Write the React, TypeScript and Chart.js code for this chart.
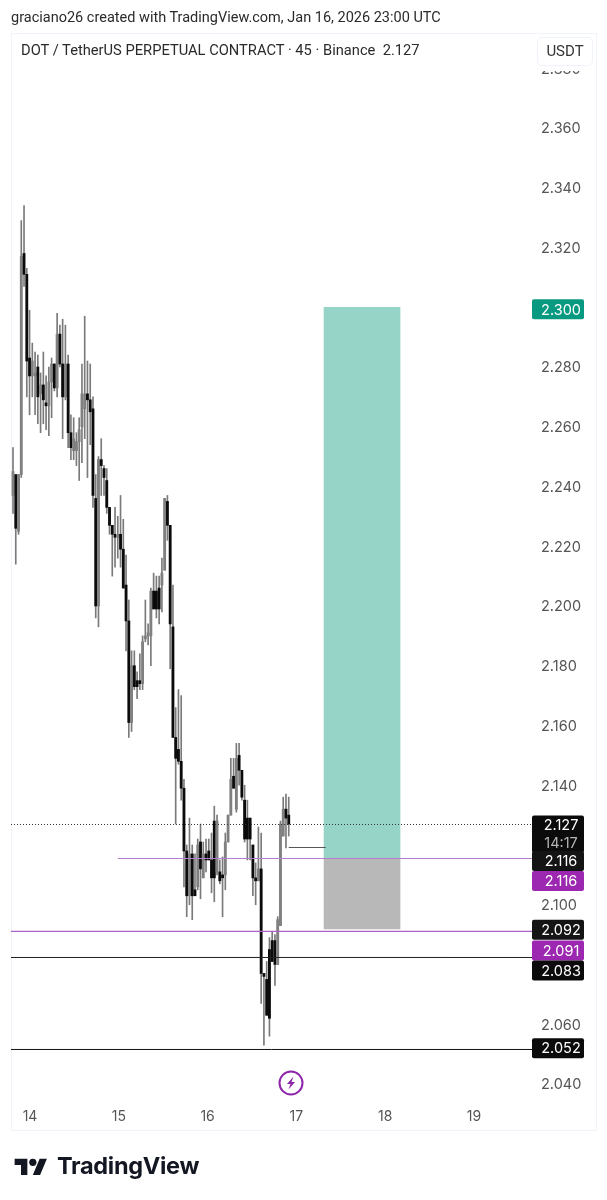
import React, { useEffect, useRef } from "react";
import { Chart, registerables } from "chart.js";

Chart.register(...registerables);

const firstBarDay = 13.8086;
const barStep = 0.03105;

const opens = [2.237,2.244,2.225,2.244,2.318,2.311,2.283,2.277,2.277,2.280,2.271,2.274,2.268,2.267,2.275,2.281,2.273,2.291,2.281,2.270,2.281,2.258,2.252,2.252,2.255,2.260,2.266,2.271,2.269,2.266,2.236,2.200,2.249,2.246,2.242,2.233,2.227,2.224,2.223,2.224,2.219,2.207,2.195,2.161,2.180,2.175,2.175,2.174,2.189,2.190,2.190,2.205,2.205,2.206,2.207,2.212,2.235,2.227,2.193,2.156,2.152,2.148,2.139,2.118,2.103,2.117,2.105,2.106,2.121,2.109,2.117,2.118,2.115,2.128,2.111,2.111,2.110,2.110,2.121,2.130,2.143,2.132,2.150,2.145,2.135,2.129,2.129,2.120,2.109,2.108,2.112,2.077,2.075,2.085,2.088,2.088,2.080,2.093,2.123,2.132,2.130];
const highs = [2.253,2.244,2.244,2.329,2.334,2.313,2.299,2.288,2.285,2.284,2.278,2.285,2.277,2.280,2.283,2.281,2.298,2.294,2.296,2.294,2.284,2.264,2.263,2.258,2.263,2.281,2.297,2.282,2.281,2.270,2.244,2.250,2.256,2.247,2.246,2.233,2.227,2.233,2.230,2.237,2.229,2.217,2.202,2.185,2.185,2.178,2.184,2.190,2.202,2.194,2.206,2.211,2.210,2.210,2.216,2.236,2.237,2.227,2.207,2.166,2.172,2.170,2.142,2.120,2.129,2.120,2.117,2.122,2.127,2.121,2.122,2.122,2.124,2.133,2.130,2.115,2.116,2.124,2.130,2.149,2.149,2.154,2.154,2.145,2.140,2.135,2.129,2.120,2.114,2.126,2.124,2.077,2.081,2.089,2.091,2.090,2.096,2.128,2.136,2.137,2.136];
const lows = [2.231,2.214,2.224,2.243,2.307,2.270,2.264,2.270,2.264,2.261,2.258,2.261,2.259,2.257,2.263,2.272,2.270,2.280,2.256,2.269,2.253,2.249,2.249,2.247,2.242,2.248,2.256,2.243,2.254,2.233,2.196,2.193,2.237,2.237,2.231,2.224,2.210,2.213,2.216,2.213,2.206,2.185,2.156,2.158,2.172,2.169,2.172,2.172,2.188,2.187,2.180,2.199,2.196,2.194,2.198,2.212,2.222,2.179,2.156,2.127,2.147,2.135,2.106,2.096,2.100,2.095,2.103,2.105,2.102,2.109,2.111,2.115,2.104,2.101,2.110,2.107,2.096,2.105,2.121,2.130,2.139,2.131,2.140,2.135,2.121,2.115,2.115,2.103,2.100,2.108,2.067,2.053,2.063,2.056,2.081,2.073,2.080,2.093,2.123,2.119,2.123];
const closes = [2.245,2.226,2.244,2.317,2.311,2.282,2.277,2.282,2.278,2.270,2.274,2.269,2.267,2.275,2.281,2.273,2.291,2.281,2.270,2.281,2.258,2.253,2.256,2.255,2.259,2.271,2.271,2.269,2.265,2.237,2.200,2.249,2.247,2.243,2.233,2.227,2.224,2.223,2.224,2.219,2.206,2.195,2.161,2.180,2.173,2.173,2.174,2.188,2.190,2.191,2.205,2.199,2.199,2.199,2.211,2.236,2.227,2.194,2.156,2.149,2.148,2.139,2.118,2.103,2.117,2.103,2.103,2.120,2.112,2.117,2.115,2.115,2.109,2.109,2.128,2.108,2.109,2.121,2.130,2.142,2.139,2.149,2.145,2.136,2.122,2.122,2.122,2.109,2.108,2.112,2.077,2.076,2.063,2.062,2.081,2.080,2.095,2.127,2.132,2.129,2.127];

const dayTicks = [14, 15, 16, 17, 18, 19];
const priceTicks = [2.04,2.06,2.08,2.1,2.12,2.14,2.16,2.18,2.2,2.22,2.24,2.26,2.28,2.3,2.32,2.34,2.36,2.38];
const priceTickHidden = [2.08, 2.12];

const targetPrice = 2.3;
const entryPrice = 2.1157;
const stopPrice = 2.0919;
const positionCentreDay = 17.739;
const lastPrice = 2.12686;
const orderStubPrice = 2.11916;
const orderStubEndDay = 17.33;
const purpleLevelA = 2.11548;
const purpleLevelAStart = 14.99;
const purpleLevelB = 2.0911;
const blackLevelA = 2.08234;
const blackLevelB = 2.05155;

const xMin = 13.786;
const xMax = 19.653;
const yMin = 2.03464;
const yMax = 2.39146;

const BLACK = "#0b0b0b";
const GREY = "#808080";
const PURPLE = "#9c27b0";
const TEAL = "#089981";

const badges = [
  { text: "2.300", price: 2.3, dy: 2, h: 20, bg: TEAL, fg: "#ffffff" },
  { text: "2.127", price: 2.127, dy: 10, h: 37, bg: BLACK, fg: "#ffffff", sub: "14:17" },
  { text: "2.116", price: 2.116, dy: 4, h: 20, bg: "#141414", fg: "#ffffff" },
  { text: "2.116", price: 2.116, dy: 24, h: 20, bg: PURPLE, fg: "#ffffff" },
  { text: "2.092", price: 2.092, dy: 1, h: 20, bg: "#141414", fg: "#ffffff" },
  { text: "2.091", price: 2.091, dy: 19, h: 20, bg: PURPLE, fg: "#ffffff" },
  { text: "2.083", price: 2.083, dy: 15, h: 20, bg: BLACK, fg: "#ffffff" },
  { text: "2.052", price: 2.052, dy: 0, h: 20, bg: BLACK, fg: "#ffffff" },
];

const badgePlugin = {
  id: "priceBadges",
  afterDraw(chart: any) {
    const { ctx } = chart;
    const y = chart.scales.y;
    const left = chart.chartArea.right;
    const w = 52;
    ctx.save();
    ctx.textAlign = "center";
    ctx.textBaseline = "middle";
    badges.forEach((b: any) => {
      const cy = y.getPixelForValue(b.price) + b.dy;
      const top = b.sub ? cy - 18.5 : cy - b.h / 2;
      ctx.fillStyle = b.bg;
      ctx.beginPath();
      ctx.roundRect(left, top, w, b.h, 2);
      ctx.fill();
      ctx.font = "14.5px Inter";
      ctx.fillStyle = b.fg;
      if (b.sub) {
        ctx.fillText(b.text, left + w / 2 + 3, top + 10);
        ctx.fillStyle = "#b5b5b5";
        ctx.fillText(b.sub, left + w / 2 + 3, top + 28);
      } else {
        ctx.fillText(b.text, left + w / 2 + 3, cy + 1);
      }
    });
    ctx.restore();
  },
};

const dayAt = (i: number) => firstBarDay + i * barStep;

export default function App() {
  const ref = useRef<HTMLCanvasElement>(null);
  useEffect(() => {
    if (!ref.current) return;
    const colours = opens.map((o, i) => (closes[i] >= o ? GREY : BLACK));
    const chart = new Chart(ref.current, {
      type: "bar",
      data: {
        datasets: [
          {
            type: "line",
            data: [{ x: xMin, y: lastPrice }, { x: xMax, y: lastPrice }],
            borderColor: "#333333",
            borderWidth: 1,
            borderDash: [1, 2],
            pointRadius: 0,
            order: 1,
          },
          {
            type: "line",
            data: [{ x: purpleLevelAStart, y: purpleLevelA }, { x: xMax, y: purpleLevelA }],
            borderColor: "#b67fc9",
            borderWidth: 1,
            pointRadius: 0,
            order: 1,
          },
          {
            type: "line",
            data: [{ x: xMin, y: purpleLevelB }, { x: xMax, y: purpleLevelB }],
            borderColor: "#ac62c4",
            borderWidth: 1.2,
            pointRadius: 0,
            order: 1,
          },
          {
            type: "line",
            data: [{ x: xMin, y: blackLevelA }, { x: xMax, y: blackLevelA }],
            borderColor: "#222222",
            borderWidth: 1,
            pointRadius: 0,
            order: 1,
          },
          {
            type: "line",
            data: [{ x: xMin, y: blackLevelB }, { x: xMax, y: blackLevelB }],
            borderColor: "#111111",
            borderWidth: 1,
            pointRadius: 0,
            order: 1,
          },
          {
            type: "line",
            data: [{ x: dayAt(opens.length - 1), y: orderStubPrice }, { x: orderStubEndDay, y: orderStubPrice }],
            borderColor: "#555555",
            borderWidth: 1,
            pointRadius: 0,
            order: 1,
          },
          {
            type: "bar",
            data: opens.map((_, i) => ({ x: dayAt(i), y: [opens[i], closes[i]] })),
            backgroundColor: colours,
            barThickness: 2.2,
            minBarLength: 2,
            grouped: false,
            order: 2,
          },
          {
            type: "bar",
            data: opens.map((_, i) => ({ x: dayAt(i), y: [lows[i], highs[i]] })),
            backgroundColor: "#7a7a7a",
            barThickness: 1,
            grouped: false,
            order: 3,
          },
          {
            type: "bar",
            data: [{ x: positionCentreDay, y: [entryPrice, targetPrice] }],
            backgroundColor: "#96d4c7",
            barThickness: 76,
            grouped: false,
            order: 4,
          },
          {
            type: "bar",
            data: [{ x: positionCentreDay, y: [stopPrice, entryPrice] }],
            backgroundColor: "#b8b8b8",
            barThickness: 76,
            grouped: false,
            order: 4,
          },
        ] as any,
      },
      options: {
        responsive: false,
        animation: false,
        layout: { padding: { left: 11, top: 34, right: 0, bottom: 0 } },
        plugins: { legend: { display: false }, tooltip: { enabled: false }, title: { display: false } },
        scales: {
          x: {
            type: "linear",
            min: xMin,
            max: xMax,
            offset: false,
            grid: { display: false },
            border: { display: false },
            afterBuildTicks: (s: any) => {
              s.ticks = dayTicks.map((value) => ({ value }));
            },
            afterFit: (s: any) => {
              s.height = 100;
            },
            ticks: {
              autoSkip: false,
              maxRotation: 0,
              padding: 0,
              color: "#555555",
              font: { family: "Inter", size: 14 },
              callback: (v: any) => String(v),
            },
          },
          y: {
            type: "linear",
            position: "right",
            min: yMin,
            max: yMax,
            grid: { display: false, drawTicks: false },
            border: { display: false },
            afterBuildTicks: (s: any) => {
              s.ticks = priceTicks
                .filter((v) => !priceTickHidden.includes(v))
                .map((value) => ({ value }));
            },
            afterFit: (s: any) => {
              s.width = 75;
            },
            ticks: {
              autoSkip: false,
              padding: 9,
              labelOffset: 1,
              color: "#555555",
              font: { family: "Inter", size: 14.5 },
              callback: (v: any) => Number(v).toFixed(3),
            },
          },
        },
      } as any,
      plugins: [badgePlugin],
    });
    return () => chart.destroy();
  }, []);

  const abs = (s: React.CSSProperties): React.CSSProperties => ({ position: "absolute", ...s });

  return (
    <div style={abs({ left: 0, top: 0, width: 607, height: 1200, background: "#ffffff", overflow: "hidden", fontFamily: "Roboto" })}>
      <div style={abs({ left: 11, top: 33, width: 584, height: 1096, border: "1px solid #f0f3fa" })} />
      <canvas ref={ref} width={607} height={1200} style={abs({ left: 0, top: 0, width: 607, height: 1200 })} />
      <div style={abs({ left: 11, top: 9, fontSize: 14.5, color: "#2a2a2a", whiteSpace: "nowrap" })}>
        graciano26 created with TradingView.com, Jan 16, 2026 23:00 UTC
      </div>
      <div style={abs({ left: 21, top: 41, fontSize: 14.7, color: "#2a2a2a", whiteSpace: "nowrap" })}>
        DOT / TetherUS PERPETUAL CONTRACT · 45 · Binance&nbsp; 2.127
      </div>
      <div style={abs({ left: 537, top: 64, width: 54, height: 7, background: "#ffffff" })} />
      <div style={abs({ left: 537, top: 37, width: 54, height: 27, lineHeight: "27px", textAlign: "center", background: "#ffffff", border: "1px solid #f0f3fa", borderRadius: 5, fontSize: 15, color: "#333333" })}>
        USDT
      </div>
      <svg width={26} height={26} viewBox="0 0 26 26" style={abs({ left: 278, top: 1070 })}>
        <circle cx={13} cy={13} r={11.5} fill="#ffffff" stroke="#8e24aa" strokeWidth={2} />
        <path d="M15.5 6.5 L9 14 H12.5 L10.5 19.5 L17 12 H13.5 Z" fill="#8e24aa" />
      </svg>
      <svg width={36} height={20} viewBox="0 0 36 22" style={abs({ left: 13, top: 1155 })}>
        <path d="M14 22H7V11H0V4h14v18zM28 22h-8l7.5-18h8L28 22z" fill="#131722" />
        <circle cx={20} cy={8} r={4} fill="#131722" />
      </svg>
      <div style={abs({ left: 57, top: 1151, fontFamily: "Inter", fontWeight: 700, fontSize: 23.5, letterSpacing: -0.3, color: "#131722", whiteSpace: "nowrap" })}>
        TradingView
      </div>
    </div>
  );
}
